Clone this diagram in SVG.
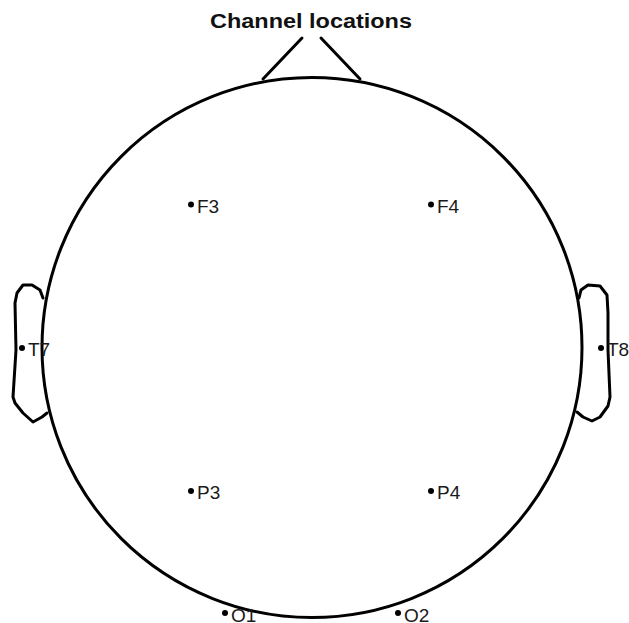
<svg xmlns="http://www.w3.org/2000/svg" width="629" height="623" viewBox="0 0 629 623">
<style>
.o{fill:none;stroke:#000;stroke-width:3;stroke-linejoin:round;stroke-linecap:round}
.d{fill:#000}
.l{font-family:"Liberation Sans",Arial,sans-serif;font-size:19px;fill:#1a1a1a}
.t{font-family:"Liberation Sans",Arial,sans-serif;font-size:20px;font-weight:bold;fill:#111}
</style>
<rect width="629" height="623" fill="#fff"/>
<text class="t" x="311" y="28" text-anchor="middle" textLength="202" lengthAdjust="spacingAndGlyphs">Channel locations</text>
<g id="head">
<circle class="o" cx="312" cy="347.5" r="270"/>
<path class="o" d="M263,79 L302,38 M321,38 L360,79"/>
<path id="ear-left" class="o" d="M43,298 L40,290 L32,285 L23,285 L17,293 L15,303 L16,350 L13,397 L15,403 L23,413 L33,422 L42,417 L47,413"/>
<path id="ear-right" class="o" d="M579,298 L581,290 L588,285 L600,286 L607,295 L608,313 L608,350 L610,397 L608,406 L600,417 L592,421 L583,417 L577,412"/>
</g>
<g id="F3"><circle class="d" cx="191" cy="204.5" r="3"/><text class="l" x="197" y="213">F3</text></g>
<g id="F4"><circle class="d" cx="431" cy="204.5" r="3"/><text class="l" x="437" y="213">F4</text></g>
<g id="T7"><circle class="d" cx="22" cy="348" r="3"/><text class="l" x="28" y="356">T7</text></g>
<g id="T8"><circle class="d" cx="601" cy="348" r="3"/><text class="l" x="607" y="356">T8</text></g>
<g id="P3"><circle class="d" cx="191" cy="491" r="3"/><text class="l" x="197" y="499">P3</text></g>
<g id="P4"><circle class="d" cx="431" cy="491" r="3"/><text class="l" x="437" y="499">P4</text></g>
<g id="O1"><circle class="d" cx="225" cy="613" r="3"/><text class="l" x="231" y="622">O1</text></g>
<g id="O2"><circle class="d" cx="398" cy="613" r="3"/><text class="l" x="404" y="622">O2</text></g>
</svg>
